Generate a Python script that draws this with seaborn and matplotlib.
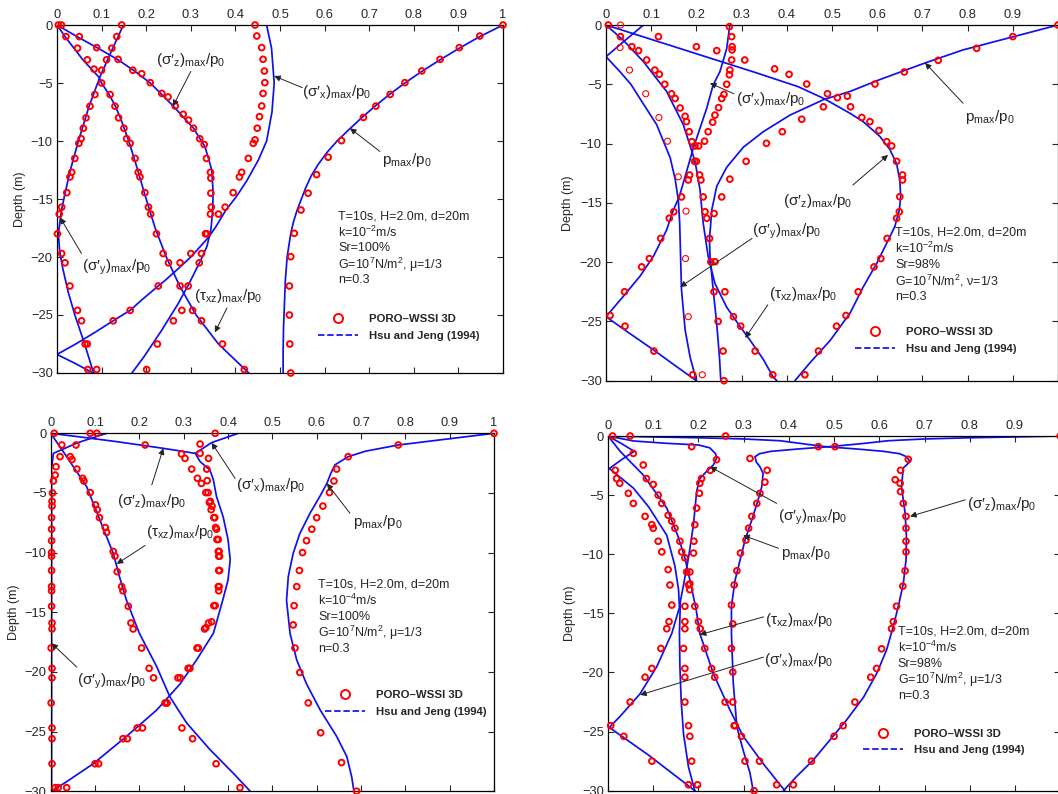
import matplotlib
matplotlib.use("Agg")
import matplotlib.pyplot as plt
import seaborn as sns
import pandas as pd
import numpy as np
from matplotlib.lines import Line2D

sns.set_style("white")
plt.rcParams["font.family"] = ["Liberation Sans", "DejaVu Sans"]
plt.rcParams["mathtext.default"] = "regular"
plt.rcParams["axes.unicode_minus"] = True

BLUE = "#1010ee"
RED = "#ff0000"

# ---------------- data: (depth m, value/p0) ----------------
# Panel 1: k=1e-2, Sr=100%
P1_PMAX_LINE = [(0, 1.0), (-1, 0.948), (-2, 0.902), (-3, 0.859), (-4, 0.818), (-5, 0.78), (-6, 0.745), (-7, 0.713),
                (-8, 0.683), (-9, 0.655), (-10, 0.628), (-11, 0.605), (-12, 0.586), (-13, 0.57), (-14, 0.558),
                (-15, 0.548), (-16, 0.538), (-17, 0.53), (-18, 0.524), (-20, 0.516), (-22, 0.512), (-24, 0.51),
                (-26, 0.508), (-28, 0.507), (-30, 0.507)]
P1_PMAX_PTS = [(0, 1.0), (-0.95, 0.948), (-1.95, 0.902), (-2.96, 0.859), (-3.96, 0.818), (-4.97, 0.78), (-5.98, 0.747),
               (-6.99, 0.715), (-7.97, 0.687), (-9.97, 0.638), (-11.4, 0.608), (-12.9, 0.582), (-14.5, 0.563),
               (-15.95, 0.547), (-17.96, 0.532), (-19.97, 0.524), (-22.5, 0.521), (-25, 0.521), (-27.5, 0.522),
               (-30, 0.524)]
P1_SX_LINE = [(0, 0.47), (-2, 0.481), (-5, 0.487), (-7.5, 0.482), (-10, 0.47), (-11.6, 0.452), (-13.4, 0.426),
              (-14.8, 0.402), (-16, 0.378), (-17.4, 0.356), (-18.3, 0.34), (-20, 0.30), (-21, 0.272), (-22, 0.243),
              (-22.5, 0.227), (-23.7, 0.19), (-24.6, 0.164), (-25.4, 0.13), (-26.5, 0.085), (-27.5, 0.042),
              (-28.4, 0.0), (-29.2, 0.042), (-30, 0.081)]
P1_SX_PTS = [(0, 0.444), (-0.95, 0.448), (-1.95, 0.459), (-2.96, 0.462), (-3.97, 0.465), (-4.97, 0.466), (-5.9, 0.462),
             (-6.98, 0.459), (-7.9, 0.454), (-8.9, 0.449), (-9.9, 0.444), (-10.2, 0.44), (-11.5, 0.429), (-12.7, 0.414),
             (-13.1, 0.409), (-14.45, 0.395), (-15.7, 0.377), (-16.3, 0.362), (-18, 0.333), (-19.7, 0.300),
             (-20.5, 0.276), (-22.5, 0.227), (-24.6, 0.164), (-25.5, 0.126), (-27.5, 0.068), (-29.7, 0.089)]
P1_SZ_LINE = [(0, 0), (-1, 0.045), (-2, 0.092), (-3, 0.137), (-4, 0.175), (-5, 0.209), (-7, 0.261), (-8.9, 0.306),
              (-10.5, 0.332), (-12.5, 0.347), (-14.4, 0.35), (-16, 0.349), (-17.7, 0.345), (-19.1, 0.336),
              (-20.3, 0.322), (-22.3, 0.296), (-24, 0.272), (-26.3, 0.235), (-28.6, 0.195), (-30, 0.168)]
P1_SZ_PTS = [(0, 0.01), (-1, 0.05), (-1.95, 0.089), (-2.96, 0.137), (-3.9, 0.17), (-4.2, 0.19), (-4.97, 0.209),
             (-5.9, 0.235), (-6.2, 0.249), (-6.98, 0.265), (-7.7, 0.283), (-8.2, 0.295), (-8.9, 0.306), (-9.8, 0.32),
             (-10.3, 0.33), (-11.5, 0.335), (-12.7, 0.344), (-13.2, 0.345), (-14.5, 0.345), (-15.7, 0.346),
             (-16.3, 0.344), (-18, 0.336), (-19.7, 0.324), (-20.5, 0.319), (-22.5, 0.294), (-24.6, 0.28),
             (-25.5, 0.261), (-27.5, 0.225), (-29.7, 0.201)]
P1_TXZ_LINE = [(0, 0), (-1, 0.018), (-2, 0.038), (-3, 0.058), (-4.5, 0.094), (-5, 0.1), (-6, 0.117), (-7, 0.131),
               (-8, 0.142), (-10, 0.161), (-12.5, 0.181), (-14.5, 0.196), (-17.5, 0.22), (-20, 0.245), (-22.5, 0.275),
               (-25, 0.312), (-27.5, 0.362), (-30, 0.43)]
P1_TXZ_PTS = [(0, 0.003), (-1, 0.02), (-2, 0.046), (-3, 0.068), (-3.8, 0.083), (-5, 0.1), (-6, 0.119), (-7, 0.13),
              (-8, 0.138), (-8.9, 0.15), (-9.8, 0.156), (-10.2, 0.164), (-11.5, 0.175), (-12.7, 0.182), (-13.1, 0.186),
              (-14.45, 0.197), (-15.7, 0.205), (-16.3, 0.21), (-18, 0.223), (-19.7, 0.238), (-20.5, 0.25),
              (-22.5, 0.276), (-24.6, 0.304), (-25.5, 0.324), (-27.5, 0.371), (-29.7, 0.42)]
P1_SY_LINE = [(0, 0.149), (-2, 0.125), (-4.5, 0.096), (-7, 0.072), (-10, 0.048), (-12.5, 0.03), (-14.5, 0.018),
              (-16, 0.01), (-18, 0.003), (-19.5, 0.006), (-21, 0.013), (-23, 0.025), (-25, 0.04), (-27.5, 0.062),
              (-30, 0.082)]
P1_SY_PTS = [(0, 0.145), (-1, 0.134), (-2, 0.123), (-3, 0.111), (-3.9, 0.1), (-6, 0.085), (-7, 0.074), (-8, 0.065),
             (-8.9, 0.059), (-9.8, 0.054), (-10.2, 0.049), (-11.5, 0.04), (-12.7, 0.033), (-13.1, 0.029),
             (-14.45, 0.022), (-15.7, 0.0105), (-16.3, 0.005), (-18, 0.001), (-19.7, 0.0105), (-20.5, 0.018),
             (-22.5, 0.029), (-24.6, 0.046), (-25.5, 0.055), (-27.5, 0.063), (-29.7, 0.069)]

# Panel 2: k=1e-2, Sr=98%
P2_PMAX_LINE = [(0, 1.0), (-1, 0.9), (-2.1, 0.79), (-3.2, 0.706), (-4.6, 0.606), (-5.6, 0.54), (-6.3, 0.481),
                (-7.6, 0.407), (-9, 0.348), (-10.3, 0.304), (-12, 0.267), (-13.6, 0.245), (-15.6, 0.234),
                (-18.1, 0.229), (-19.5, 0.23), (-22.3, 0.237), (-25.2, 0.245), (-28, 0.251), (-30, 0.254)]
P2_PMAX_PTS = [(0, 1.0), (-0.98, 0.9), (-1.97, 0.82), (-2.98, 0.735), (-3.96, 0.66), (-4.98, 0.595), (-6.0, 0.534),
               (-6.9, 0.481), (-7.95, 0.433), (-9.0, 0.39), (-9.98, 0.355), (-11.5, 0.31), (-13.0, 0.274),
               (-14.5, 0.256), (-15.9, 0.239), (-19.97, 0.232), (-22.5, 0.239), (-25, 0.248), (-27.5, 0.259),
               (-30, 0.261)]
P2_SZ_LINE = [(0, 0), (-2, 0.165), (-4, 0.33), (-5.2, 0.425), (-6.2, 0.482), (-7.45, 0.54), (-8.15, 0.569),
              (-9.4, 0.606), (-10.5, 0.628), (-11.7, 0.643), (-13.1, 0.65), (-14.5, 0.652), (-15.6, 0.649),
              (-17, 0.639), (-18.4, 0.621), (-20.1, 0.599), (-22.1, 0.569), (-24.3, 0.54), (-26.6, 0.496),
              (-28.5, 0.451), (-30, 0.418)]
P2_SZ_PTS = [(-0.98, 0.116), (-1.83, 0.2), (-2.16, 0.245), (-2.95, 0.307), (-3.7, 0.373), (-4.16, 0.405),
             (-4.98, 0.444), (-5.8, 0.49), (-6.13, 0.512), (-6.9, 0.541), (-7.8, 0.566), (-8.15, 0.584),
             (-8.9, 0.604), (-9.84, 0.621), (-10.2, 0.632), (-11.5, 0.643), (-12.65, 0.656), (-13.07, 0.656),
             (-14.48, 0.65), (-15.75, 0.649), (-16.3, 0.643), (-18.0, 0.622), (-19.7, 0.608), (-20.4, 0.593),
             (-22.5, 0.558), (-24.5, 0.531), (-25.4, 0.51), (-27.5, 0.47), (-29.5, 0.44)]
P2_SX_LINE = [(0, 0.274), (-2, 0.267), (-3.94, 0.252), (-5.06, 0.237), (-7, 0.223), (-8.7, 0.208), (-10.4, 0.193),
              (-12.4, 0.178), (-14.5, 0.162), (-15.6, 0.149), (-17.3, 0.134), (-19.5, 0.105), (-21.2, 0.075),
              (-22.9, 0.038), (-24.6, 0.0), (-26, 0.052), (-27.4, 0.105), (-28.7, 0.152), (-30, 0.2)]
P2_SX_PTS = [(-0.14, 0.273), (-0.98, 0.278), (-1.83, 0.279), (-2.1, 0.279), (-2.95, 0.278), (-3.8, 0.274),
             (-4.2, 0.273), (-5.0, 0.267), (-5.85, 0.261), (-6.2, 0.256), (-6.97, 0.249), (-7.6, 0.241),
             (-8.2, 0.236), (-9.0, 0.226), (-9.8, 0.218), (-10.2, 0.205), (-11.5, 0.196), (-12.65, 0.185),
             (-13.07, 0.182), (-14.5, 0.167), (-15.75, 0.15), (-16.3, 0.14), (-18, 0.121), (-19.7, 0.096),
             (-20.4, 0.079), (-22.5, 0.041), (-24.5, 0.009), (-25.4, 0.042), (-27.5, 0.106), (-29.5, 0.192)]
P2_SY_LINE = [(0, 0.083), (-1.3, 0.042), (-2.67, 0.0), (-3.94, 0.031), (-5, 0.055), (-6.2, 0.075), (-8.4, 0.112),
              (-11.2, 0.142), (-13, 0.153), (-14.76, 0.16), (-16.7, 0.163), (-19.5, 0.165), (-22.3, 0.167),
              (-25.7, 0.175), (-28, 0.186), (-30, 0.2)]
P2_SY_PTS = [(0, 0.032), (-1.9, 0.031), (-3.8, 0.052), (-5.8, 0.088), (-7.8, 0.117), (-9.8, 0.136), (-12.8, 0.16),
             (-15.7, 0.177), (-19.7, 0.176), (-24.6, 0.182), (-29.5, 0.213)]
P2_TXZ_LINE = [(0, 0), (-1.27, 0.038), (-3.1, 0.083), (-5.6, 0.134), (-8.4, 0.171), (-11.5, 0.197), (-13.9, 0.208),
               (-16.7, 0.215), (-19.5, 0.226), (-21.8, 0.241), (-23.8, 0.267), (-25.4, 0.296), (-26.6, 0.319),
               (-28.2, 0.348), (-29.7, 0.37), (-30, 0.378)]
P2_TXZ_PTS = [(0, 0.005), (-0.98, 0.032), (-1.83, 0.057), (-2.16, 0.072), (-2.95, 0.09), (-3.8, 0.108),
              (-4.16, 0.118), (-5.0, 0.13), (-5.8, 0.145), (-6.2, 0.153), (-7.0, 0.164), (-7.7, 0.175), (-8.15, 0.178),
              (-9.0, 0.184), (-9.84, 0.19), (-10.2, 0.197), (-11.5, 0.2), (-12.65, 0.207), (-13.07, 0.21),
              (-14.5, 0.215), (-15.75, 0.219), (-16.3, 0.223), (-18, 0.229), (-19.97, 0.241), (-22.5, 0.263),
              (-24.6, 0.282), (-25.4, 0.298), (-27.5, 0.33), (-29.5, 0.369)]

# Panel 3: k=1e-4, Sr=100%
P3_PMAX_LINE = [(0, 1.0), (-0.5, 0.89), (-0.98, 0.784), (-1.5, 0.71), (-1.96, 0.671), (-2.65, 0.641), (-3.35, 0.632),
                (-4.2, 0.623), (-5.3, 0.607), (-6.7, 0.585), (-8.4, 0.562), (-10.06, 0.547), (-12, 0.536),
                (-14, 0.532), (-16.8, 0.54), (-19, 0.555), (-21, 0.577), (-23.2, 0.608), (-25.4, 0.645),
                (-27.1, 0.668), (-28.8, 0.679), (-30, 0.684)]
P3_PMAX_PTS = [(0, 1.0), (-0.98, 0.784), (-1.96, 0.671), (-3.0, 0.645), (-4.0, 0.639), (-4.97, 0.629), (-6.1, 0.614),
               (-7.07, 0.6), (-8.04, 0.589), (-9.0, 0.577), (-10.0, 0.568), (-11.5, 0.561), (-12.85, 0.555),
               (-14.45, 0.549), (-16.06, 0.547), (-18.0, 0.551), (-20.05, 0.562), (-22.6, 0.581), (-25.1, 0.609),
               (-27.6, 0.656), (-30, 0.69)]
P3_SX_LINE = [(0, 0.423), (-0.78, 0.363), (-1.68, 0.326), (-2.37, 0.337), (-3.07, 0.359), (-3.9, 0.367),
              (-5.3, 0.374), (-7, 0.389), (-8.9, 0.4), (-10.6, 0.405), (-12.3, 0.4), (-14, 0.388), (-16.76, 0.367),
              (-19, 0.329), (-21, 0.292), (-23.2, 0.239), (-25.4, 0.171), (-27.7, 0.096), (-29.2, 0.036),
              (-30, 0.002)]
P3_SX_PTS = [(0, 0.371), (-0.9, 0.337), (-1.68, 0.337), (-2.1, 0.356), (-3.0, 0.352), (-3.97, 0.353),
             (-4.97, 0.355), (-5.7, 0.36), (-6.1, 0.364), (-7.07, 0.37), (-8.04, 0.374), (-8.9, 0.378), (-9.9, 0.38),
             (-10.3, 0.381), (-11.5, 0.381), (-12.85, 0.38), (-13.2, 0.379), (-14.45, 0.371), (-15.8, 0.363),
             (-16.3, 0.35), (-18.0, 0.333), (-19.7, 0.314), (-20.5, 0.292), (-22.6, 0.262), (-24.7, 0.207),
             (-25.6, 0.173), (-27.7, 0.108), (-29.7, 0.036)]
P3_SZ_LINE = [(0, 0), (-0.34, 0.074), (-0.7, 0.149), (-1.26, 0.254), (-1.68, 0.326)]
P3_SZ_PTS = [(0, 0.104), (-0.98, 0.213), (-1.73, 0.295), (-2.1, 0.303), (-3.0, 0.318), (-3.77, 0.331), (-4.2, 0.34),
             (-4.97, 0.35), (-5.8, 0.358), (-6.4, 0.362), (-7.07, 0.368), (-7.9, 0.372), (-8.9, 0.375), (-9.9, 0.378),
             (-10.3, 0.379), (-11.5, 0.379), (-12.85, 0.378), (-14.45, 0.368), (-15.9, 0.356), (-16.4, 0.347),
             (-18.0, 0.33), (-19.7, 0.31), (-20.5, 0.287), (-22.6, 0.258), (-24.7, 0.195), (-25.6, 0.163),
             (-27.7, 0.1), (-29.7, 0.017)]
P3_TXZ_LINE = [(0, 0), (-1.96, 0.036), (-4.47, 0.081), (-7.26, 0.111), (-10.06, 0.141), (-12, 0.155), (-14, 0.171),
               (-16.76, 0.2), (-19.55, 0.239), (-22.1, 0.269), (-24.3, 0.307), (-26.5, 0.359), (-28.5, 0.412),
               (-30, 0.45)]
P3_TXZ_PTS = [(0, 0.008), (-0.98, 0.025), (-1.96, 0.044), (-2.2, 0.048), (-3.0, 0.059), (-3.77, 0.072), (-4.0, 0.075),
              (-4.97, 0.089), (-6.0, 0.101), (-6.4, 0.105), (-7.07, 0.11), (-7.9, 0.123), (-8.3, 0.126),
              (-9.9, 0.141), (-10.3, 0.145), (-11.6, 0.15), (-12.85, 0.16), (-13.2, 0.163), (-14.5, 0.175),
              (-15.9, 0.181), (-16.4, 0.186), (-18.0, 0.205), (-19.7, 0.222), (-20.5, 0.232), (-22.6, 0.262),
              (-24.7, 0.296), (-25.6, 0.32), (-27.7, 0.373), (-29.7, 0.427)]
P3_SY_LINE = [(0, 0.126), (-0.8, 0.06), (-1.68, 0.006), (-3, 0.002), (-10, 0.002), (-20, 0.002), (-30, 0.002)]
P3_SY_PTS = [(0, 0.089), (-0.98, 0.057), (-1.96, 0.021), (-2.8, 0.012), (-3.5, 0.01), (-4.0, 0.006), (-5, 0.004),
             (-5.7, 0.003), (-6.1, 0.003), (-7.07, 0.002), (-8.04, 0.002), (-9, 0.002), (-10, 0.002), (-10.3, 0.002),
             (-11.5, 0.002), (-12.85, 0.002), (-13.2, 0.002), (-14.5, 0.002), (-15.9, 0.003), (-16.4, 0.003),
             (-18, 0.001), (-19.7, 0.003), (-20.5, 0.003), (-22.6, 0.001), (-24.7, 0.003), (-25.6, 0.003),
             (-27.7, 0.003), (-29.7, 0.01)]

# Panel 4: k=1e-4, Sr=98%
P4_PMAX_LINE = [(0, 1.0), (-0.08, 0.9), (-0.15, 0.8), (-0.25, 0.7), (-0.4, 0.62), (-0.65, 0.56), (-0.9, 0.49),
                (-1.1, 0.42), (-1.3, 0.36), (-1.5, 0.335), (-1.75, 0.325), (-2.2, 0.328), (-2.6, 0.336),
                (-3.16, 0.343), (-4.3, 0.34), (-5.4, 0.332), (-7.1, 0.318), (-8.8, 0.303), (-10.5, 0.292),
                (-12.2, 0.281), (-14.4, 0.273), (-16.7, 0.273), (-20.9, 0.277), (-24.6, 0.285), (-26.6, 0.299),
                (-28.5, 0.314), (-30, 0.321)]
P4_PMAX_PTS = [(0, 1.0), (-0.9, 0.465), (-1.9, 0.314), (-2.9, 0.352), (-3.9, 0.347), (-4.85, 0.336), (-5.7, 0.329),
               (-6.8, 0.318), (-7.8, 0.311), (-8.8, 0.305), (-9.9, 0.293), (-11.4, 0.285), (-12.6, 0.279),
               (-14.3, 0.273), (-15.9, 0.276), (-17.97, 0.273), (-19.97, 0.276), (-22.5, 0.276), (-24.5, 0.279),
               (-27.5, 0.303), (-30, 0.323)]
P4_SZ_LINE = [(0, 0.0), (-0.08, 0.1), (-0.15, 0.2), (-0.25, 0.3), (-0.4, 0.38), (-0.65, 0.43), (-0.9, 0.48),
              (-1.1, 0.55), (-1.3, 0.61), (-1.5, 0.645), (-1.75, 0.66), (-2.17, 0.668), (-2.7, 0.653),
              (-4.3, 0.649), (-6.5, 0.657), (-8.5, 0.66), (-10.5, 0.659), (-12.5, 0.653), (-14.4, 0.642),
              (-16.1, 0.631), (-18.1, 0.616), (-20.1, 0.594), (-22.1, 0.565), (-24, 0.528), (-25.7, 0.491),
              (-27.4, 0.454), (-28.8, 0.417), (-30, 0.388)]
P4_SZ_PTS = [(-0.9, 0.502), (-1.97, 0.664), (-2.9, 0.647), (-3.7, 0.635), (-4.0, 0.646), (-4.7, 0.647),
             (-5.7, 0.653), (-6.8, 0.659), (-7.8, 0.659), (-8.9, 0.659), (-9.8, 0.659), (-11.4, 0.657),
             (-12.7, 0.652), (-14.4, 0.638), (-15.7, 0.631), (-16.3, 0.627), (-18.0, 0.605), (-19.66, 0.594),
             (-20.4, 0.581), (-22.5, 0.546), (-24.5, 0.52), (-25.4, 0.5), (-27.5, 0.45), (-29.5, 0.41)]
P4_SY_LINE = [(0, 0.0), (-0.42, 0.056), (-0.62, 0.13), (-0.76, 0.2), (-1.0, 0.225), (-1.5, 0.238), (-1.9, 0.24),
              (-2.45, 0.233), (-3.0, 0.218), (-3.6, 0.203), (-4.7, 0.196), (-7.5, 0.189), (-10.3, 0.178),
              (-12.6, 0.167), (-14, 0.16), (-16.7, 0.158), (-19.5, 0.159), (-22.5, 0.162), (-25.2, 0.167),
              (-28, 0.178), (-30, 0.192)]
P4_SY_PTS = [(0, 0.26), (-0.9, 0.185), (-2.0, 0.24), (-2.9, 0.226), (-3.6, 0.207), (-4.0, 0.203), (-4.85, 0.202),
             (-6.1, 0.196), (-7.5, 0.192), (-8.9, 0.19), (-9.9, 0.189), (-11.5, 0.181), (-12.5, 0.181),
             (-13.0, 0.181), (-14.4, 0.17), (-15.7, 0.17), (-16.3, 0.17), (-17.97, 0.167), (-19.66, 0.17),
             (-20.4, 0.17), (-22.5, 0.17), (-24.5, 0.178), (-25.4, 0.181), (-27.5, 0.185), (-29.5, 0.198)]
P4_SX_LINE = [(0, 0.0), (-0.6, 0.028), (-1.3, 0.058), (-2.0, 0.03), (-2.75, 0.003), (-4.4, 0.056), (-6, 0.09),
              (-8.4, 0.13), (-11, 0.148), (-13, 0.156), (-14.5, 0.158), (-16.7, 0.141), (-19.5, 0.108),
              (-21.8, 0.071), (-23.7, 0.027), (-24.65, 0.003), (-27, 0.09), (-30, 0.192)]
P4_SX_PTS = [(0, 0.049), (-2.9, 0.016), (-3.6, 0.019), (-4.0, 0.026), (-4.85, 0.045), (-5.7, 0.056), (-6.8, 0.082),
             (-7.5, 0.097), (-7.8, 0.1), (-8.9, 0.111), (-9.8, 0.119), (-11.3, 0.133), (-12.6, 0.137),
             (-14.3, 0.141), (-15.7, 0.135), (-16.3, 0.13), (-17.97, 0.117), (-19.66, 0.097), (-20.4, 0.082),
             (-22.5, 0.049), (-24.5, 0.006), (-25.4, 0.035), (-27.5, 0.097), (-29.5, 0.178)]
P4_TXZ_LINE = [(0, 0), (-1.3, 0.027), (-3.3, 0.078), (-6.1, 0.13), (-8.5, 0.155), (-10.3, 0.17), (-12.5, 0.183),
               (-14.7, 0.195), (-16.7, 0.203), (-20.1, 0.233), (-23.2, 0.27), (-25.4, 0.299), (-27.7, 0.343),
               (-30, 0.391)]
P4_TXZ_PTS = [(0, 0.01), (-1.47, 0.056), (-2.45, 0.078), (-3.6, 0.085), (-4.1, 0.1), (-5.0, 0.111), (-5.7, 0.119),
              (-6.7, 0.133), (-7.2, 0.141), (-7.8, 0.148), (-8.9, 0.159), (-9.8, 0.163), (-10.3, 0.17),
              (-11.5, 0.174), (-12.6, 0.178), (-14.4, 0.192), (-15.7, 0.2), (-16.3, 0.204), (-17.97, 0.214),
              (-19.66, 0.229), (-20.4, 0.236), (-22.5, 0.259), (-24.5, 0.281), (-25.4, 0.295), (-27.5, 0.335),
              (-29.5, 0.373)]

X_TICKS = [0, 0.1, 0.2, 0.3, 0.4, 0.5, 0.6, 0.7, 0.8, 0.9, 1.0]
X_TICKLABELS = ["0", "0.1", "0.2", "0.3", "0.4", "0.5", "0.6", "0.7", "0.8", "0.9", "1"]
X_TICKLABELS_CUT = ["0", "0.1", "0.2", "0.3", "0.4", "0.5", "0.6", "0.7", "0.8", "0.9", ""]
Y_TICKS = [0, -5, -10, -15, -20, -25, -30]

LBL_SZ = "(σ′$_z$)$_{max}$/p$_0$"
LBL_SX = "(σ′$_x$)$_{max}$/p$_0$"
LBL_SY = "(σ′$_y$)$_{max}$/p$_0$"
LBL_TXZ = "(τ$_{xz}$)$_{max}$/p$_0$"
LBL_P = "p$_{max}$/p$_0$"

PARAMS_1 = ["T=10s, H=2.0m, d=20m", "k=10$^{-2}$m/s", "Sr=100%", "G=10$^7$N/m$^2$, μ=1/3", "n=0.3"]
PARAMS_2 = ["T=10s, H=2.0m, d=20m", "k=10$^{-2}$m/s", "Sr=98%", "G=10$^7$N/m$^2$, ν=1/3", "n=0.3"]
PARAMS_3 = ["T=10s, H=2.0m, d=20m", "k=10$^{-4}$m/s", "Sr=100%", "G=10$^7$N/m$^2$, μ=1/3", "n=0.3"]
PARAMS_4 = ["T=10s, H=2.0m, d=20m", "k=10$^{-4}$m/s", "Sr=98%", "G=10$^7$N/m$^2$, μ=1/3", "n=0.3"]
LEGEND_LABELS = ["PORO–WSSI 3D", "Hsu and Jeng (1994)"]

# ---------------- layout ----------------
PANELS = [
    dict(rect=[57 / 1058, 1 - 373 / 794, 446 / 1058, 348 / 794], xtl=X_TICKLABELS,
         lines=[P1_PMAX_LINE, P1_SX_LINE, P1_SZ_LINE, P1_TXZ_LINE, P1_SY_LINE],
         pts=[P1_PMAX_PTS, P1_SX_PTS, P1_SZ_PTS, P1_TXZ_PTS, P1_SY_PTS], thin=[],
         ann=[(LBL_SZ, (0.30, -3.0), (0.30, -4.0), (0.26, -7.0)),
              (LBL_SX, (0.626, -5.8), (0.55, -5.4), (0.487, -4.4)),
              (LBL_P, (0.785, -11.6), (0.724, -10.9), (0.657, -8.9)),
              (LBL_SY, (0.134, -20.9), (0.055, -19.7), (0.007, -16.6)),
              (LBL_TXZ, (0.383, -23.4), (0.381, -24.4), (0.354, -26.5))],
         params=PARAMS_1, ppos=(0.63, -16.5, 1.38), leg=(0.585, -25.5)),
    dict(rect=[606 / 1058, 1 - 380.7 / 794, 452 / 1058, 355.7 / 794], xtl=X_TICKLABELS_CUT,
         lines=[P2_PMAX_LINE, P2_SX_LINE, P2_SZ_LINE, P2_TXZ_LINE, P2_SY_LINE],
         pts=[P2_PMAX_PTS, P2_SX_PTS, P2_SZ_PTS, P2_TXZ_PTS], thin=[P2_SY_PTS],
         ann=[(LBL_SX, (0.365, -6.2), (0.283, -5.8), (0.23, -4.9)),
              (LBL_P, (0.85, -7.75), (0.79, -6.6), (0.706, -3.2)),
              (LBL_SZ, (0.469, -14.85), (0.546, -13.5), (0.624, -10.96)),
              (LBL_SY, (0.40, -17.4), (0.323, -18.0), (0.164, -22.1)),
              (LBL_TXZ, (0.436, -22.7), (0.358, -23.6), (0.308, -26.4))],
         params=PARAMS_2, ppos=(0.64, -17.5, 1.36), leg=(0.551, -26.0)),
    dict(rect=[50.7 / 1058, 1 - 791.2 / 794, 443.3 / 1058, 357.9 / 794], xtl=X_TICKLABELS,
         lines=[P3_PMAX_LINE, P3_SX_LINE, P3_SZ_LINE, P3_TXZ_LINE, P3_SY_LINE],
         pts=[P3_PMAX_PTS, P3_SX_PTS, P3_SZ_PTS, P3_TXZ_PTS, P3_SY_PTS], thin=[],
         ann=[(LBL_SZ, (0.228, -5.67), (0.228, -4.33), (0.254, -1.26)),
              (LBL_SX, (0.497, -4.3), (0.416, -3.78), (0.363, -0.79)),
              (LBL_P, (0.738, -7.4), (0.675, -6.7), (0.623, -4.2)),
              (LBL_TXZ, (0.292, -8.3), (0.213, -9.4), (0.149, -10.95)),
              (LBL_SY, (0.138, -20.8), (0.059, -19.6), (0.002, -17.6))],
         params=PARAMS_3, ppos=(0.604, -12.7, 1.34), leg=(0.619, -22.1)),
    dict(rect=[608 / 1058, 1 - 790.7 / 794, 452.2 / 1058, 354.7 / 794], xtl=X_TICKLABELS_CUT,
         lines=[P4_PMAX_LINE, P4_SX_LINE, P4_SZ_LINE, P4_TXZ_LINE, P4_SY_LINE],
         pts=[P4_PMAX_PTS, P4_SX_PTS, P4_SZ_PTS, P4_TXZ_PTS, P4_SY_PTS], thin=[],
         ann=[(LBL_SY, (0.453, -6.9), (0.373, -5.7), (0.226, -2.6)),
              (LBL_P, (0.438, -9.9), (0.377, -9.5), (0.299, -8.4)),
              (LBL_SZ, (0.871, -5.75), (0.79, -5.4), (0.668, -6.8)),
              (LBL_TXZ, (0.422, -15.6), (0.344, -15.3), (0.203, -16.8)),
              (LBL_SX, (0.422, -18.95), (0.344, -18.7), (0.071, -21.9))],
         params=PARAMS_4, ppos=(0.641, -16.55, 1.35), leg=(0.564, -25.3)),
]

fig = plt.figure(figsize=(10.58, 7.94), dpi=100)

for P in PANELS:
    ax = fig.add_axes(P["rect"])
    for ser in P["lines"]:
        df = pd.DataFrame(ser, columns=["depth", "value"])
        sns.lineplot(data=df, x="value", y="depth", sort=False, estimator=None, ax=ax,
                     color=BLUE, lw=1.25, zorder=2)
    for ser in P["pts"]:
        df = pd.DataFrame(ser, columns=["depth", "value"])
        sns.scatterplot(data=df, x="value", y="depth", ax=ax, marker="o", s=17,
                        facecolor="none", edgecolor=RED, linewidth=1.4, zorder=3, clip_on=False)
    for ser in P["thin"]:
        df = pd.DataFrame(ser, columns=["depth", "value"])
        sns.scatterplot(data=df, x="value", y="depth", ax=ax, marker="o", s=19,
                        facecolor="none", edgecolor=RED, linewidth=0.8, zorder=3, clip_on=False)

    ax.set_xlim(0, 1)
    ax.set_ylim(-30, 0)
    ax.set_xticks(X_TICKS)
    ax.set_xticklabels(P["xtl"])
    ax.set_yticks(Y_TICKS)
    ax.tick_params(axis="both", direction="in", top=True, bottom=True, left=True, right=True,
                   labeltop=True, labelbottom=False, length=4, width=0.8, labelsize=9.3,
                   pad=3)
    for sp in ax.spines.values():
        sp.set_color("black")
        sp.set_linewidth(0.9)
    ax.set_xlabel("")
    ax.set_ylabel("Depth (m)", fontsize=9)
    ax.yaxis.set_label_coords(-0.07, 0.5)
    ax.grid(False)

    for label, tpos, a0, a1 in P["ann"]:
        ax.text(tpos[0], tpos[1], label, fontsize=11, ha="center", va="center", zorder=5)
        ax.annotate("", xy=a1, xytext=a0,
                    arrowprops=dict(arrowstyle="-|>", color="#222222", lw=0.7,
                                    mutation_scale=9, shrinkA=0, shrinkB=0), zorder=5)

    px, py, dy = P["ppos"]
    for i, line in enumerate(P["params"]):
        ax.text(px, py - i * dy, line, fontsize=9, ha="left", va="center", zorder=5)

    handles = [Line2D([], [], ls="none", marker="o", mfc="none", mec=RED, mew=1.4, ms=6.5),
               Line2D([], [], ls="--", color=BLUE, lw=1.25)]
    lx, ly = P["leg"]
    ax.legend(handles, LEGEND_LABELS, loc="upper left", bbox_to_anchor=(lx, ly + 0.55),
              bbox_transform=ax.transData, frameon=False, borderpad=0, borderaxespad=0,
              handlelength=3.5, handletextpad=1.0, labelspacing=0.6,
              prop=dict(weight="bold", size=8.2))

fig.savefig("out.png", dpi=100)
